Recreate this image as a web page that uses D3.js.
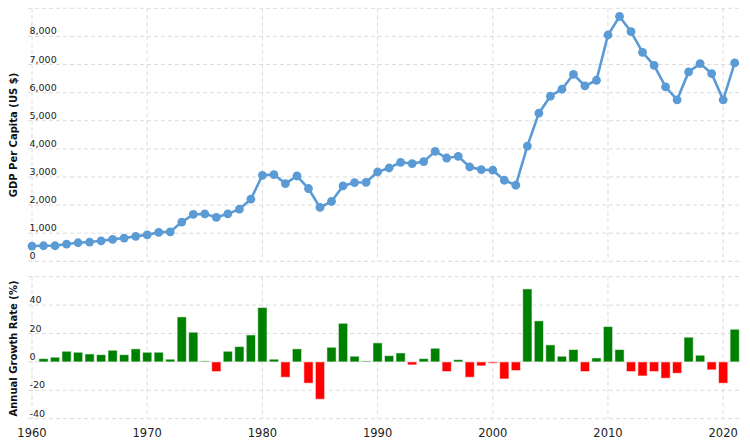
<!DOCTYPE html>
<html><head><meta charset="utf-8">
<script src="https://cdn.jsdelivr.net/npm/d3@7"></script>
<style>
html,body{margin:0;padding:0;background:#fff;}
svg{display:block;font-family:"DejaVu Sans",Verdana,sans-serif;}
</style></head>
<body><svg id="c" width="750" height="442"></svg>
<script>
const years = d3.range(1960, 2022);
const gdpPerCapita = [543,553,553,613,660,684,730,780,826,887,
  943,1028,1050,1394,1667,1688,1560,1688,1855,2209,
  3060,3085,2766,3035,2589,1915,2128,2681,2801,2810,
  3177,3319,3521,3475,3546,3911,3674,3734,3355,3262,
  3240,2883,2706,4099,5270,5872,6121,6653,6241,6440,
  8050,8709,8167,7433,6972,6206,5745,6738,7032,6677,
  5745,7057];
const growthRate = [null,2.3,3.3,7.5,6.8,5.6,5.1,8.2,5.1,9.2,
  6.8,6.8,1.9,31.7,20.9,0.7,-6.8,7.5,10.8,19.0,
  38.3,1.9,-10.8,9.2,-15.0,-26.3,10.3,27.2,4.0,0.7,
  13.4,4.4,6.3,-2.1,2.3,9.6,-6.8,1.6,-10.8,-2.8,
  -0.9,-12.0,-6.1,51.4,28.9,12.0,4.0,8.7,-6.8,2.8,
  24.9,8.7,-6.8,-9.9,-6.8,-11.5,-8.0,17.4,4.7,-5.6,
  -15.0,23.0];
const gdpTicks = [0,1000,2000,3000,4000,5000,6000,7000,8000,9000];
const gdpTickLabels = ["0","1,000","2,000","3,000","4,000","5,000","6,000","7,000","8,000",""];
const growthTicks = [-40,-20,0,20,40,60];
const growthTickLabels = ["-40","-20","0","20","40",""];
const decadeTicks = [1960,1970,1980,1990,2000,2010,2020];

const svg = d3.select("#c");
const gridColor = "#dcdcdc";
const x = d3.scaleLinear().domain([1960, 2021]).range([32, 734.7]);
const gridLeft = 28, gridRight = 740;
const yTop = d3.scaleLinear().domain([0, 9000]).range([261.3, 8.3]);
const yBot = d3.scaleLinear().domain([-40, 60]).range([418.7, 276.7]);

function grid(yScale, ticks, labels) {
  const g = svg.append("g");
  g.selectAll("line.h").data(ticks).join("line")
    .attr("x1", gridLeft).attr("x2", gridRight)
    .attr("y1", d => yScale(d)).attr("y2", d => yScale(d))
    .attr("stroke", gridColor).attr("stroke-dasharray", "4,3");
  const [lo, hi] = yScale.domain();
  g.selectAll("line.v").data(decadeTicks).join("line")
    .attr("x1", d => x(d)).attr("x2", d => x(d))
    .attr("y1", yScale(hi)).attr("y2", yScale(lo))
    .attr("stroke", gridColor).attr("stroke-dasharray", "4,3");
  g.selectAll("text").data(ticks).join("text")
    .attr("x", 29.5).attr("y", d => yScale(d) - 2)
    .attr("font-size", 9.5).attr("fill", "#222")
    .text((d, i) => labels[i]);
}
grid(yTop, gdpTicks, gdpTickLabels);
grid(yBot, growthTicks, growthTickLabels);

// line + points
const pts = years.map((yr, i) => ({yr, v: gdpPerCapita[i]}));
svg.append("path").datum(pts)
  .attr("fill", "none").attr("stroke", "#5b9bd5").attr("stroke-width", 2.6)
  .attr("d", d3.line().x(d => x(d.yr)).y(d => yTop(d.v)));
svg.append("g").selectAll("circle").data(pts).join("circle")
  .attr("cx", d => x(d.yr)).attr("cy", d => yTop(d.v)).attr("r", 4.4)
  .attr("fill", "#5b9bd5");

// bars
const step = x(1961) - x(1960);
const bw = step * 0.8;
const bars = years.map((yr, i) => ({yr, v: growthRate[i]})).filter(d => d.v !== null);
svg.append("g").selectAll("rect").data(bars).join("rect")
  .attr("x", d => x(d.yr) - bw / 2).attr("width", bw)
  .attr("y", d => yBot(Math.max(0, d.v)))
  .attr("height", d => Math.abs(yBot(d.v) - yBot(0)))
  .attr("fill", d => d.v >= 0 ? "#008000" : "#ff0000")
  .attr("stroke", "rgba(255,255,255,0.55)").attr("stroke-width", 1);

// x axis labels
svg.append("g").selectAll("text").data(decadeTicks).join("text")
  .attr("x", d => x(d)).attr("y", 437).attr("text-anchor", "middle")
  .attr("font-size", 11.5).attr("fill", "#222").text(d => d);

// axis titles
svg.append("text").attr("transform", "translate(17,135) rotate(-90)")
  .attr("text-anchor", "middle").attr("font-size", 10).attr("font-weight", "bold")
  .attr("fill", "#111").text("GDP Per Capita (US $)");
svg.append("text").attr("transform", "translate(17,348.5) rotate(-90)")
  .attr("text-anchor", "middle").attr("font-size", 10).attr("font-weight", "bold")
  .attr("fill", "#111").text("Annual Growth Rate (%)");
</script></body></html>
